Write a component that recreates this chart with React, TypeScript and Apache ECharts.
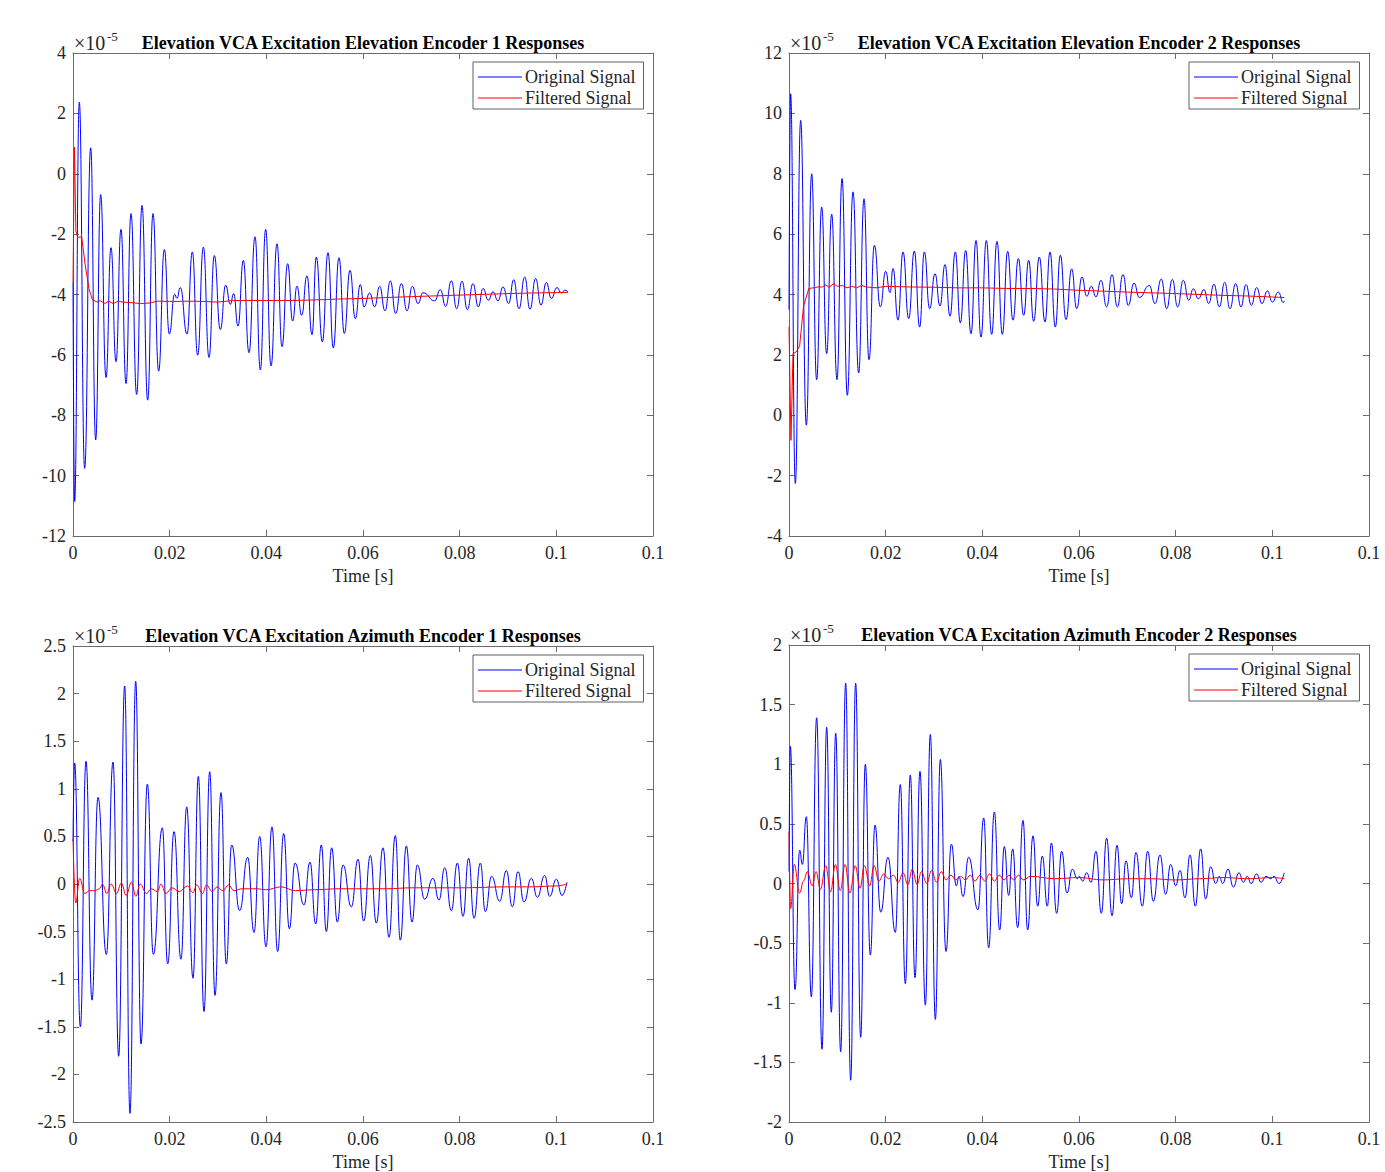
import React, { useEffect, useRef } from "react";
import * as echarts from "echarts";

// ---------- DATA (time in ms, value in units of 1e-5) ----------
const xTickLabels = ["0", "0.02", "0.04", "0.06", "0.08", "0.1", "0.1"];

const titles = [
  "Elevation VCA Excitation Elevation Encoder 1 Responses",
  "Elevation VCA Excitation Elevation Encoder 2 Responses",
  "Elevation VCA Excitation Azimuth Encoder 1 Responses",
  "Elevation VCA Excitation Azimuth Encoder 2 Responses",
];

const yRanges = [
  [-12, 4, 2],
  [-4, 12, 2],
  [-2.5, 2.5, 0.5],
  [-2, 2, 0.5],
];

const elEnc1Original = [[0,-3.58],[0.34,-10.86],[1.31,2.37],[2.41,-9.76],[3.66,0.86],[4.69,-8.82],[5.72,-0.69],[6.83,-6.75],[7.86,-2.45],[8.9,-6.23],[9.93,-1.84],[10.97,-6.95],[12.0,-1.32],[13.17,-7.31],[14.28,-1.05],[15.45,-7.5],[16.55,-1.32],[17.72,-6.54],[18.9,-2.51],[19.93,-5.31],[21.03,-3.99],[21.5,-4.13],[22.2,-3.77],[23.59,-5.31],[24.69,-2.59],[25.79,-6.01],[26.97,-2.43],[28.14,-6.09],[29.24,-2.71],[30.48,-5.16],[31.59,-3.69],[32.55,-4.33],[33.24,-3.97],[34.14,-5.05],[35.24,-2.87],[36.41,-5.93],[37.66,-2.09],[38.76,-6.5],[39.86,-1.84],[40.97,-6.37],[42.21,-2.32],[43.24,-5.73],[44.41,-2.98],[45.45,-4.88],[46.34,-3.72],[47.31,-4.69],[48.41,-3.38],[49.45,-5.33],[50.34,-2.76],[51.59,-5.57],[52.76,-2.61],[53.86,-5.77],[55.03,-2.78],[56.14,-5.29],[57.31,-3.2],[58.41,-4.8],[59.45,-3.67],[60.21,-4.41],[61.38,-3.95],[62.41,-4.41],[63.45,-3.73],[64.55,-4.54],[65.66,-3.55],[66.76,-4.63],[67.93,-3.64],[69.1,-4.54],[70.21,-3.73],[71.38,-4.3],[72.41,-3.94],[74.83,-4.21],[76.0,-3.84],[77.1,-4.39],[78.28,-3.55],[79.38,-4.47],[80.48,-3.56],[81.59,-4.5],[82.76,-3.64],[83.86,-4.41],[84.83,-3.8],[85.93,-4.19],[86.9,-3.91],[87.93,-4.21],[88.97,-3.75],[90.14,-4.3],[91.17,-3.51],[92.28,-4.47],[93.45,-3.42],[94.55,-4.49],[95.72,-3.47],[96.83,-4.35],[97.93,-3.6],[98.97,-4.13],[100.14,-3.77],[101.03,-3.95],[101.72,-3.86],[102.41,-3.91]];

const elEnc1Filtered = [[0,-3.58],[0.3,0.88],[0.6,-1.9],[1.0,-2.1],[1.8,-2.1],[2.5,-3.0],[3.3,-3.8],[4.0,-4.17],[5.0,-4.25],[5.6,-4.2],[6.6,-4.3],[7.4,-4.22],[8.3,-4.3],[9.3,-4.22],[10.3,-4.25],[12,-4.27],[14,-4.3],[16,-4.28],[17.5,-4.22],[20,-4.23],[25,-4.22],[30,-4.25],[33,-4.2],[36,-4.2],[40,-4.2],[45,-4.2],[50,-4.18],[55,-4.15],[60,-4.13],[70,-4.07],[80,-4.02],[90,-3.97],[95,-3.95],[102.41,-3.93]];

const elEnc2Original = [[0,3.5],[0.34,10.65],[1.31,-2.26],[2.41,9.77],[3.59,-0.33],[4.69,8.0],[5.72,1.18],[6.76,6.9],[7.79,2.04],[8.83,6.66],[9.93,1.18],[10.97,7.84],[12.07,0.66],[13.24,7.4],[14.41,1.4],[15.52,7.17],[16.55,1.84],[17.66,5.63],[18.9,3.59],[20.0,4.77],[20.9,4.06],[21.52,4.86],[22.55,3.15],[23.59,5.41],[24.76,3.2],[25.93,5.44],[27.03,2.92],[28.0,5.41],[29.1,3.53],[30.21,4.69],[31.24,3.62],[32.28,4.99],[33.31,3.28],[34.41,5.41],[35.45,3.06],[36.55,5.46],[37.66,2.7],[38.69,5.79],[39.72,2.59],[40.83,5.79],[41.93,2.68],[43.03,5.76],[44.14,2.68],[45.24,5.43],[46.34,3.15],[47.45,5.19],[48.55,3.31],[49.59,5.13],[50.62,3.11],[51.79,5.24],[52.97,3.09],[54.0,5.41],[55.1,2.92],[56.14,5.3],[57.31,3.17],[58.48,4.85],[59.52,3.53],[60.62,4.58],[61.59,3.94],[62.55,4.27],[63.52,3.92],[64.55,4.47],[65.72,3.59],[66.83,4.66],[67.93,3.59],[69.1,4.66],[70.21,3.64],[71.38,4.38],[72.48,3.9],[74.55,4.3],[75.72,3.7],[77.03,4.51],[78.14,3.53],[79.31,4.5],[80.41,3.59],[81.59,4.47],[82.69,3.81],[83.66,4.19],[84.69,3.86],[85.86,4.16],[86.83,3.7],[87.93,4.34],[89.03,3.59],[90.14,4.4],[91.24,3.53],[92.41,4.36],[93.52,3.59],[94.55,4.33],[95.66,3.64],[96.76,4.23],[97.86,3.7],[98.97,4.12],[100.0,3.75],[101.24,4.08],[102.28,3.73],[102.48,3.79]];

const elEnc2Filtered = [[0,2.92],[0.41,-0.83],[0.83,2.04],[1.5,2.1],[2.2,2.3],[3.0,3.6],[4.1,4.2],[5,4.22],[6,4.25],[7,4.25],[7.5,4.32],[8.3,4.24],[9.2,4.36],[10,4.27],[11,4.3],[12,4.22],[13,4.27],[14,4.22],[15,4.3],[16,4.25],[18,4.22],[20,4.27],[25,4.25],[30,4.24],[35,4.22],[40,4.22],[45,4.2],[50,4.2],[55,4.18],[60,4.14],[70,4.08],[80,4.03],[90,3.97],[95,3.95],[102.48,3.9]];

const azEnc1Original = [[0,0.45],[0.34,1.27],[1.52,-1.5],[2.69,1.29],[3.93,-1.22],[5.17,0.91],[6.9,-0.74],[8.28,1.28],[9.45,-1.81],[10.69,2.08],[11.79,-2.41],[12.97,2.13],[14.07,-1.68],[15.38,1.05],[16.62,-0.74],[18.48,0.59],[19.59,-0.84],[20.9,0.55],[22.34,-0.79],[23.52,0.81],[24.83,-0.99],[25.93,1.13],[27.1,-1.34],[28.28,1.18],[29.38,-1.17],[30.62,0.96],[31.72,-0.84],[32.83,0.41],[34.48,-0.28],[36.14,0.28],[37.45,-0.51],[38.62,0.5],[39.93,-0.66],[41.17,0.6],[42.34,-0.71],[43.59,0.53],[44.76,-0.47],[45.93,0.22],[47.79,-0.22],[49.03,0.23],[50.21,-0.42],[51.38,0.41],[52.41,-0.5],[53.52,0.38],[54.69,-0.4],[55.86,0.2],[57.59,-0.24],[58.97,0.26],[60.14,-0.39],[61.52,0.3],[62.76,-0.41],[64.14,0.38],[65.38,-0.56],[66.69,0.51],[67.72,-0.59],[68.97,0.4],[70.14,-0.4],[71.24,0.2],[72.76,-0.16],[74.48,0.06],[75.72,-0.17],[76.9,0.17],[78.28,-0.28],[79.52,0.22],[80.69,-0.34],[81.86,0.27],[82.97,-0.36],[84.28,0.22],[85.31,-0.29],[86.62,0.08],[88.28,-0.18],[89.66,0.14],[90.9,-0.24],[92.07,0.13],[93.31,-0.19],[94.83,0.06],[96.07,-0.14],[97.59,0.09],[98.62,-0.13],[100.0,0.05],[101.17,-0.12],[102.21,0.02]];

const azEnc1Filtered = [[0,0.47],[0.55,-0.2],[1.38,0.06],[2.41,-0.1],[3.5,-0.07],[4.5,-0.07],[5.5,-0.05],[6.1,0.0],[7.0,-0.1],[7.9,0.0],[9.0,-0.1],[10.0,0.01],[11.0,-0.12],[12.1,0.02],[13.0,-0.13],[13.9,0.0],[15.2,-0.1],[16.2,-0.05],[17.5,-0.08],[18.2,0.0],[19.2,-0.1],[20.5,-0.04],[22,-0.08],[23.7,-0.02],[24.8,-0.09],[25.6,-0.01],[26.8,-0.1],[27.6,-0.01],[28.8,-0.08],[29.8,-0.03],[31,-0.07],[32.2,-0.01],[33.3,-0.07],[35,-0.05],[38,-0.05],[40,-0.06],[43,-0.03],[46,-0.07],[50,-0.06],[55,-0.05],[60,-0.05],[65,-0.05],[70,-0.04],[80,-0.04],[90,-0.03],[95,-0.03],[100,-0.02],[102.2,0.0]];

const azEnc2Original = [[0,0.1],[0.28,1.15],[1.24,-0.89],[2.21,0.28],[2.76,0.16],[3.59,0.56],[4.62,-0.95],[5.72,1.39],[6.83,-1.39],[7.79,1.31],[8.76,-1.08],[9.66,1.26],[10.69,-1.41],[11.72,1.68],[12.76,-1.65],[13.79,1.68],[14.83,-1.29],[15.79,1.0],[16.83,-0.6],[17.79,0.49],[18.97,-0.24],[20.48,0.22],[22.0,-0.41],[23.03,0.83],[24.07,-0.84],[25.1,0.91],[26.07,-0.79],[27.1,0.94],[28.21,-1.02],[29.24,1.25],[30.28,-1.14],[31.31,1.04],[32.48,-0.57],[33.59,0.33],[34.62,-0.02],[35.17,0.06],[36.0,-0.11],[37.17,0.22],[39.1,-0.22],[40.28,0.55],[41.31,-0.54],[42.48,0.6],[43.59,-0.39],[44.55,0.31],[45.45,-0.1],[46.28,0.29],[47.31,-0.37],[48.41,0.53],[49.38,-0.39],[50.48,0.4],[51.45,-0.19],[52.41,0.23],[53.45,-0.19],[54.28,0.34],[55.38,-0.25],[56.41,0.27],[57.52,-0.08],[58.62,0.12],[59.66,0.04],[60.07,0.06],[60.76,0.02],[61.59,0.09],[62.48,0.01],[63.52,0.27],[64.62,-0.25],[65.72,0.38],[66.83,-0.27],[67.86,0.32],[68.83,-0.17],[69.72,0.19],[70.83,-0.12],[71.79,0.26],[73.1,-0.19],[74.21,0.27],[75.38,-0.15],[76.76,0.24],[77.93,-0.09],[78.97,0.16],[80.0,-0.02],[80.9,0.11],[81.93,-0.12],[82.97,0.24],[84.07,-0.19],[85.17,0.29],[86.21,-0.13],[87.24,0.14],[88.28,0.0],[89.03,0.06],[89.72,0.0],[90.83,0.12],[91.93,-0.03],[93.1,0.09],[94.0,0.01],[94.83,0.06],[95.59,0.0],[96.76,0.08],[97.66,0.01],[98.69,0.06],[99.66,0.04],[100.34,0.06],[101.38,0.0],[102.48,0.09]];

const azEnc2Filtered = [[0,0.43],[0.34,-0.21],[1.1,0.16],[2.2,-0.08],[3.0,0.02],[3.8,0.1],[4.8,-0.02],[5.6,0.1],[6.5,-0.05],[7.6,0.15],[8.6,-0.07],[9.6,0.16],[10.6,-0.06],[11.6,0.16],[12.6,-0.08],[13.7,0.15],[14.7,-0.04],[15.6,0.15],[16.7,-0.02],[17.6,0.15],[18.6,0.02],[19.6,0.08],[20.6,0.04],[21.6,0.07],[22.6,0.01],[23.6,0.09],[24.6,-0.01],[25.5,0.12],[26.5,-0.01],[27.4,0.1],[28.5,0.0],[29.5,0.11],[30.5,0.01],[31.5,0.1],[32.5,0.03],[33.5,0.07],[34.5,0.03],[35.5,0.06],[36.5,0.03],[37.5,0.07],[38.5,0.02],[39.5,0.07],[40.5,0.02],[41.5,0.08],[42.5,0.02],[43.5,0.07],[44.5,0.03],[45.5,0.07],[46.5,0.03],[47.5,0.07],[48.5,0.03],[50,0.06],[55,0.04],[60,0.05],[65,0.03],[70,0.04],[75,0.04],[80,0.03],[85,0.04],[90,0.05],[95,0.04],[100,0.05],[102.5,0.04]];

const originalSeries = [elEnc1Original, elEnc2Original, azEnc1Original, azEnc2Original];
const filteredSeries = [elEnc1Filtered, elEnc2Filtered, azEnc1Filtered, azEnc2Filtered];

// ---------- LAYOUT ----------
const layout = [
  { left: 73, top: 53, width: 580, height: 483 },
  { left: 789, top: 53, width: 580, height: 483 },
  { left: 73, top: 646, width: 580, height: 482 },
  { left: 789, top: 645, width: 580, height: 482 },
];
const filteredSmooth = [false, false, 0.4, 0.4];

const FONT = '"Liberation Serif", "Times New Roman", serif';
const AX = "#6b6b6b";
const TXT = "#262626";

export default function App() {
  const ref = useRef<HTMLDivElement>(null);
  useEffect(() => {
    if (!ref.current) return;
    const chart = echarts.init(ref.current, undefined, { renderer: "svg" });

    const grid: any[] = [];
    const xAxis: any[] = [];
    const yAxis: any[] = [];
    const series: any[] = [];
    const legend: any[] = [];
    const graphic: any[] = [];

    layout.forEach((g, i) => {
      grid.push({ left: g.left, top: g.top, width: g.width, height: g.height, containLabel: false });
      const tick = { show: true, inside: true, length: 6, lineStyle: { color: AX, width: 1 } };
      const line = { show: true, onZero: false, lineStyle: { color: AX, width: 1 } };
      xAxis.push({
        type: "value", gridIndex: i, position: "bottom", min: 0, max: 0.12, interval: 0.02,
        axisLine: line, axisTick: tick, splitLine: { show: false },
        axisLabel: {
          color: TXT, fontFamily: FONT, fontSize: 18, margin: 8,
          formatter: (v: number) => xTickLabels[Math.round(v / 0.02)] ?? "",
        },
        name: "Time [s]", nameLocation: "middle", nameGap: 31,
        nameTextStyle: { color: TXT, fontFamily: FONT, fontSize: 18 },
      });
      xAxis.push({
        type: "value", gridIndex: i, position: "top", min: 0, max: 0.12, interval: 0.02,
        axisLine: line, axisTick: tick, splitLine: { show: false }, axisLabel: { show: false },
      });
      const [ymin, ymax, yint] = yRanges[i];
      yAxis.push({
        type: "value", gridIndex: i, position: "left", min: ymin, max: ymax, interval: yint,
        axisLine: line, axisTick: tick, splitLine: { show: false },
        axisLabel: { color: TXT, fontFamily: FONT, fontSize: 18, margin: 7 },
      });
      yAxis.push({
        type: "value", gridIndex: i, position: "right", min: ymin, max: ymax, interval: yint,
        axisLine: line, axisTick: tick, splitLine: { show: false }, axisLabel: { show: false },
      });

      series.push({
        type: "line", name: "Original Signal", xAxisIndex: 2 * i, yAxisIndex: 2 * i,
        data: originalSeries[i].map(([t, v]) => [t / 1000, v]),
        symbol: "none", showSymbol: false, smooth: 0.5, smoothMonotone: "x",
        lineStyle: { color: "#0000ff", width: 1 }, itemStyle: { color: "#0000ff" },
      });
      series.push({
        type: "line", name: "Filtered Signal", xAxisIndex: 2 * i, yAxisIndex: 2 * i,
        data: filteredSeries[i].map(([t, v]) => [t / 1000, v]),
        symbol: "none", showSymbol: false, smooth: filteredSmooth[i], smoothMonotone: "x",
        lineStyle: { color: "#ff0000", width: 1 }, itemStyle: { color: "#ff0000" },
      });

      legend.push({
        show: true, orient: "vertical",
        left: g.left + g.width - 180, top: g.top + 9,
        data: ["Original Signal", "Filtered Signal"],
        icon: "rect",
        itemWidth: 44, itemHeight: 1, itemGap: 3,
        padding: [6, 8, 2, 5],
        backgroundColor: "#ffffff", borderColor: "#606060", borderWidth: 1, borderRadius: 0,
        textStyle: { color: TXT, fontFamily: FONT, fontSize: 18, padding: [0, 0, 0, -2] },
        selectedMode: false,
      });

      const cx = g.left + g.width / 2;
      const ty = g.top - 10;
      graphic.push({
        type: "text", x: cx, y: ty,
        style: {
          text: titles[i], fill: "#000", font: `bold 18px ${FONT}`,
          align: "center", verticalAlign: "middle", textAlign: "center", textVerticalAlign: "middle",
        },
      });
      graphic.push({
        type: "text", x: g.left + 1, y: g.top - 10,
        style: {
          text: "\u00d710", fill: TXT, font: `20px ${FONT}`,
          align: "left", verticalAlign: "middle", textAlign: "left", textVerticalAlign: "middle",
        },
      });
      graphic.push({
        type: "text", x: g.left + 34, y: g.top - 17,
        style: {
          text: "-5", fill: TXT, font: `13px ${FONT}`,
          align: "left", verticalAlign: "middle", textAlign: "left", textVerticalAlign: "middle",
        },
      });
    });

    chart.setOption({
      animation: false,
      backgroundColor: "#ffffff",
      grid, xAxis, yAxis, series, legend, graphic,
    });
    return () => chart.dispose();
  }, []);

  return (
    <div
      ref={ref}
      style={{ position: "fixed", left: 0, top: 0, width: 1385, height: 1172, background: "#fff" }}
    />
  );
}
